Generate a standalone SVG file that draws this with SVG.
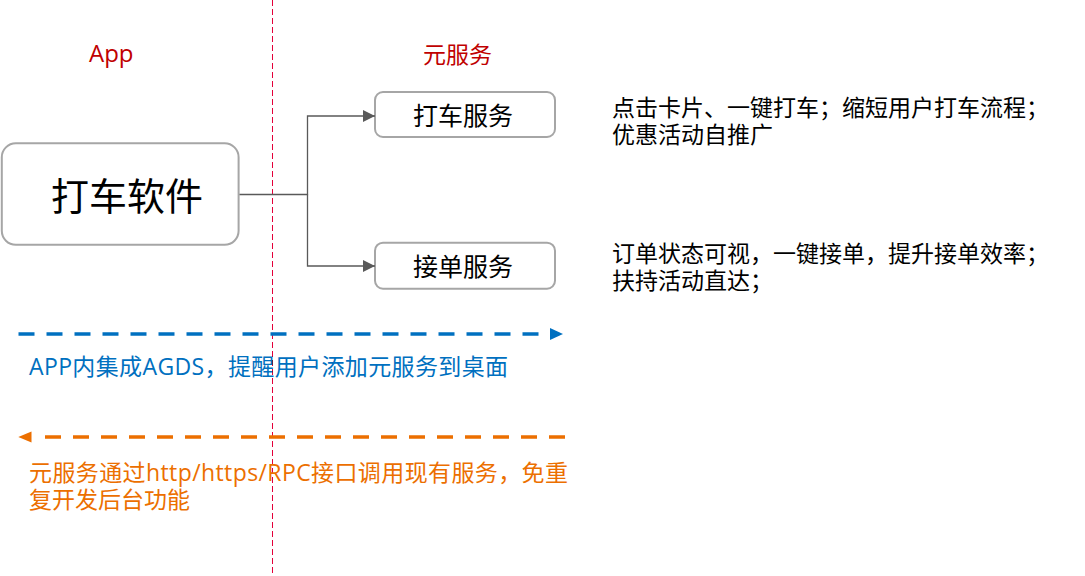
<svg xmlns="http://www.w3.org/2000/svg" width="1085" height="576" viewBox="0 0 1085 576">
  <style>
    text { font-family: "Open Sans", "Noto Sans CJK SC", sans-serif; }
    .title { fill: #C00000; }
    .box { fill: #FFFFFF; stroke: #A6A6A6; stroke-width: 2; }
    .label { fill: #000000; }
    .desc { font-size: 23px; fill: #000000; }
    .conn { fill: none; stroke: #595959; stroke-width: 1.3; }
    .blue { fill: #0070C0; font-size: 23px; }
    .orange { fill: #EC6F00; font-size: 23px; }
  </style>
  <defs>
    <marker id="grayArrow" viewBox="0 0 12 12" refX="12" refY="6" markerWidth="12" markerHeight="12" markerUnits="userSpaceOnUse" orient="auto">
      <path d="M0,0 L12,6 L0,12 Z" fill="#595959"/>
    </marker>
  </defs>
  <rect width="1085" height="576" fill="#FFFFFF"/>

  <g id="divider">
    <line x1="272.5" y1="0" x2="272.5" y2="573" stroke="#E4003A" stroke-width="1" stroke-dasharray="6 3"/>
  </g>

  <g id="title-app"><text class="title" x="89" y="62" font-size="24">App</text></g>
  <g id="title-meta"><text class="title" x="423" y="63" font-size="23">元服务</text></g>

  <g id="node-app">
    <rect class="box" x="1.8" y="143.3" width="236.8" height="101.5" rx="14" ry="14"/>
    <text class="label" x="51" y="210" font-size="38">打车软件</text>
  </g>
  <g id="node-taxi">
    <rect class="box" x="375" y="92" width="180" height="45" rx="8" ry="8"/>
    <text class="label" x="413" y="125" font-size="25">打车服务</text>
  </g>
  <g id="node-order">
    <rect class="box" x="375" y="242.7" width="180" height="46" rx="8" ry="8"/>
    <text class="label" x="413" y="276" font-size="25">接单服务</text>
  </g>

  <g id="connectors">
    <path class="conn" d="M239.5,194.5 H307.5 V116 H375" marker-end="url(#grayArrow)"/>
    <path class="conn" d="M307.5,194.5 V266 H375" marker-end="url(#grayArrow)"/>
    <line x1="18.5" y1="334" x2="550" y2="334" stroke="#0070C0" stroke-width="3.6" stroke-dasharray="16 12"/>
    <path d="M550,328 L563,334 L550,340 Z" fill="#0070C0"/>
    <line x1="565" y1="437" x2="40" y2="437" stroke="#EC6F00" stroke-width="3.4" stroke-dasharray="16 12"/>
    <path d="M31.5,431.5 L18.3,437 L31.5,442.5 Z" fill="#EC6F00"/>
  </g>

  <g id="desc-taxi">
    <text class="desc" x="612" y="115.5">点击卡片、一键打车；缩短用户打车流程；</text>
    <text class="desc" x="612" y="142.5">优惠活动自推广</text>
  </g>
  <g id="desc-order">
    <text class="desc" x="612" y="262">订单状态可视，一键接单，提升接单效率；</text>
    <text class="desc" x="612" y="289">扶持活动直达；</text>
  </g>

  <g id="note-blue">
    <text class="blue" x="29" y="375" textLength="479" lengthAdjust="spacing">APP内集成AGDS，提醒用户添加元服务到桌面</text>
  </g>
  <g id="note-orange">
    <text class="orange" x="29" y="481" textLength="539" lengthAdjust="spacing">元服务通过http/https/RPC接口调用现有服务，免重</text>
    <text class="orange" x="29" y="508">复开发后台功能</text>
  </g>
</svg>
